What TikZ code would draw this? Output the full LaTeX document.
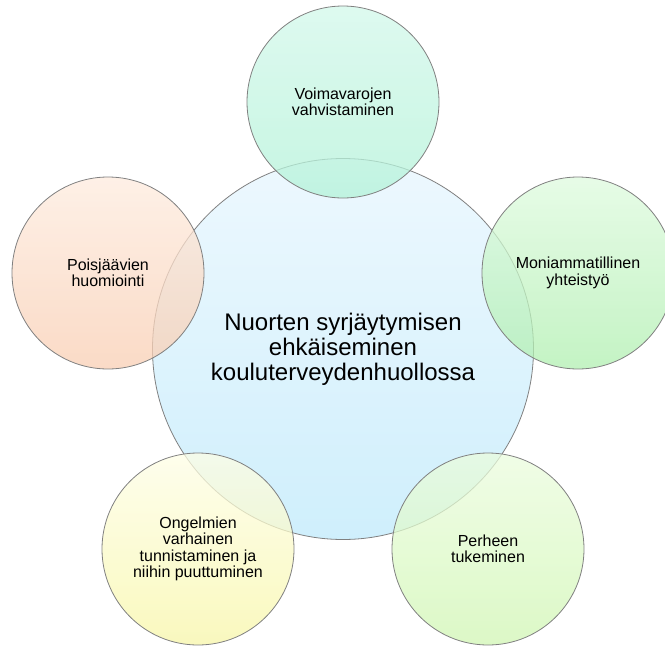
\documentclass[tikz,border=0pt]{standalone}
\usepackage{fontspec}
\setmainfont{Liberation Sans}
\definecolor{cT}{RGB}{237,248,254}
\definecolor{cB}{RGB}{207,239,252}
\definecolor{aT}{RGB}{210,248,234}
\definecolor{aB}{RGB}{179,242,216}
\definecolor{bT}{RGB}{222,250,222}
\definecolor{bB}{RGB}{176,239,176}
\definecolor{dT}{RGB}{235,252,222}
\definecolor{dB}{RGB}{208,246,179}
\definecolor{eT}{RGB}{254,254,230}
\definecolor{eB}{RGB}{247,246,168}
\definecolor{fT}{RGB}{254,235,222}
\definecolor{fB}{RGB}{248,206,179}
\definecolor{edge}{RGB}{128,128,128}
\tikzset{
  hub/.style={circle, draw=edge, line width=0.8pt, minimum size=381pt, inner sep=0pt,
    top color=cT, bottom color=cB, align=center, font=\fontsize{24}{25}\selectfont},
  spoke/.style={circle, draw=edge, line width=0.8pt, minimum size=192pt, inner sep=0pt,
    fill opacity=0.75, text opacity=1, align=center, font=\fontsize{16}{16.3}\selectfont}
}
\begin{document}
\begin{tikzpicture}[x=1pt,y=-1pt]
\useasboundingbox (0,0) rectangle (665,646);
\node[hub] (c) at (343,349) {Nuorten syrjäytymisen\\ehkäiseminen\\kouluterveydenhuollossa};
\node[spoke, top color=aT, bottom color=aB] (n1) at (343,102) {Voimavarojen\\vahvistaminen};
\node[spoke, top color=bT, bottom color=bB] (n2) at (578,273) {Moniammatillinen\\yhteistyö};
\node[spoke, top color=dT, bottom color=dB] (n3) at (488,549) {Perheen\\tukeminen};
\node[spoke, top color=eT, bottom color=eB] (n4) at (198,549) {Ongelmien\\varhainen\\tunnistaminen ja\\niihin puuttuminen};
\node[spoke, top color=fT, bottom color=fB] (n5) at (108,273) {Poisjäävien\\huomiointi};
\end{tikzpicture}
\end{document}
